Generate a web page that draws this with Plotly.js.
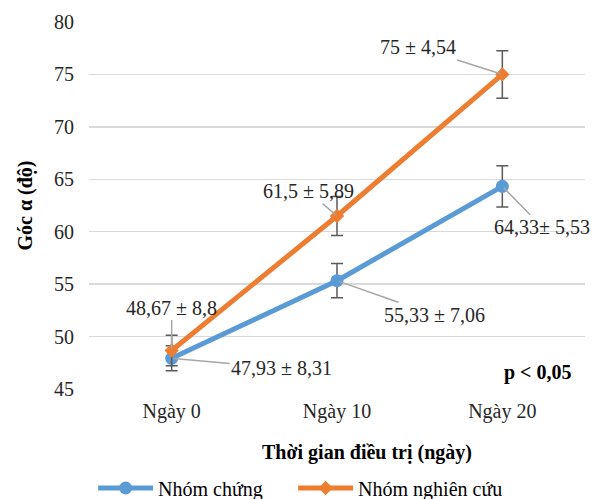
<!DOCTYPE html>
<html>
<head>
<meta charset="utf-8">
<script src="https://cdn.plot.ly/plotly-3.0.1.min.js"></script>
<style>html,body{margin:0;padding:0;background:#fff;}#chart{width:604px;height:499px;}</style>
</head>
<body>
<div id="chart"></div>
<script>
var categories = ['Ngày 0', 'Ngày 10', 'Ngày 20'];
var controlName = 'Nhóm chứng';
var studyName = 'Nhóm nghiên cứu';
var controlMean = [47.93, 55.33, 64.33];
var studyMean = [48.67, 61.5, 75];
var controlErr = [1.2, 1.63, 1.97];
var studyErr = [1.45, 1.85, 2.27];
var controlLabels = ['47,93 ± 8,31', '55,33 ± 7,06', '64,33± 5,53'];
var studyLabels = ['48,67 ± 8,8', '61,5 ± 5,89', '75 ± 4,54'];
var yTicks = [45, 50, 55, 60, 65, 70, 75, 80];

var FONT = 'Liberation Serif, Times New Roman, serif';
var FS = 20;

var traces = [
  {
    x: categories, y: controlMean, name: controlName, type: 'scatter', mode: 'lines+markers',
    legend: 'legend',
    line: {color: '#5B9BD5', width: 5},
    marker: {color: '#5B9BD5', size: 13, symbol: 'circle'},
    error_y: {type: 'data', array: controlErr, visible: true, color: '#595959', thickness: 1.5, width: 6}
  },
  {
    x: categories, y: studyMean, name: studyName, type: 'scatter', mode: 'lines+markers',
    legend: 'legend2',
    line: {color: '#ED7D31', width: 5},
    marker: {color: '#ED7D31', size: 11, symbol: 'diamond'},
    error_y: {type: 'data', array: studyErr, visible: true, color: '#595959', thickness: 1.5, width: 6}
  }
];

var ctrlOff = [[110, 10], [97, 34], [40, 41]];
var studyOff = [[0, -43], [-29, -25], [-84, -27]];
var annotations = [];
for (var i = 0; i < categories.length; i++) {
  annotations.push({x: categories[i], y: controlMean[i], xref: 'x', yref: 'y', text: controlLabels[i],
    showarrow: true, arrowhead: 0, arrowwidth: 1.5, arrowcolor: '#A6A6A6', standoff: 2,
    ax: ctrlOff[i][0], ay: ctrlOff[i][1], font: {family: FONT, size: FS, color: '#262626'}});
  annotations.push({x: categories[i], y: studyMean[i], xref: 'x', yref: 'y', text: studyLabels[i],
    showarrow: true, arrowhead: 0, arrowwidth: 1.5, arrowcolor: '#A6A6A6', standoff: 2,
    ax: studyOff[i][0], ay: studyOff[i][1], font: {family: FONT, size: FS, color: '#262626'}});
}
annotations.push({xref: 'paper', yref: 'paper', x: (538 - 89) / 496, y: (389 - 372) / 367, xanchor: 'center', yanchor: 'middle',
  text: '<b>p < 0,05</b>', showarrow: false, font: {family: FONT, size: FS, color: '#000'}});
annotations.push({xref: 'paper', yref: 'paper', x: (367 - 89) / 496, y: -(453 - 389) / 367, xanchor: 'center', yanchor: 'middle',
  text: '<b>Thời gian điều trị (ngày)</b>', showarrow: false, font: {family: FONT, size: FS, color: '#000'}});

var legX = 0.0587 - 25 / 496;
var legY = -(488 - 389) / 367;
function legendSpec(x) {
  return {orientation: 'h', x: x, y: legY, xanchor: 'left', yanchor: 'middle',
    font: {family: FONT, size: FS, color: '#000'}, itemwidth: 55, bgcolor: 'rgba(0,0,0,0)'};
}

var layout = {
  width: 604, height: 499,
  margin: {l: 89, r: 19, t: 22, b: 110, autoexpand: false},
  paper_bgcolor: '#fff', plot_bgcolor: '#fff',
  font: {family: FONT, size: FS, color: '#262626'},
  showlegend: true,
  legend: legendSpec(legX),
  legend2: legendSpec(legX + 200 / 496),
  xaxis: {type: 'category', range: [-0.5, 2.5], showgrid: false, zeroline: false, showline: false,
    ticks: '', ticklabelstandoff: 8, tickfont: {family: FONT, size: FS, color: '#262626'}},
  yaxis: {range: [45, 80], tickvals: yTicks, showgrid: true, gridcolor: '#D9D9D9', gridwidth: 1.5,
    zeroline: false, showline: false, ticks: '', ticklabelstandoff: 14,
    tickfont: {family: FONT, size: FS, color: '#262626'},
    title: {text: '<b>Góc α (độ)</b>', standoff: 16, font: {family: FONT, size: FS, color: '#000'}}},
  annotations: annotations
};

Plotly.newPlot('chart', traces, layout, {displayModeBar: false, staticPlot: true});
</script>
</body>
</html>
